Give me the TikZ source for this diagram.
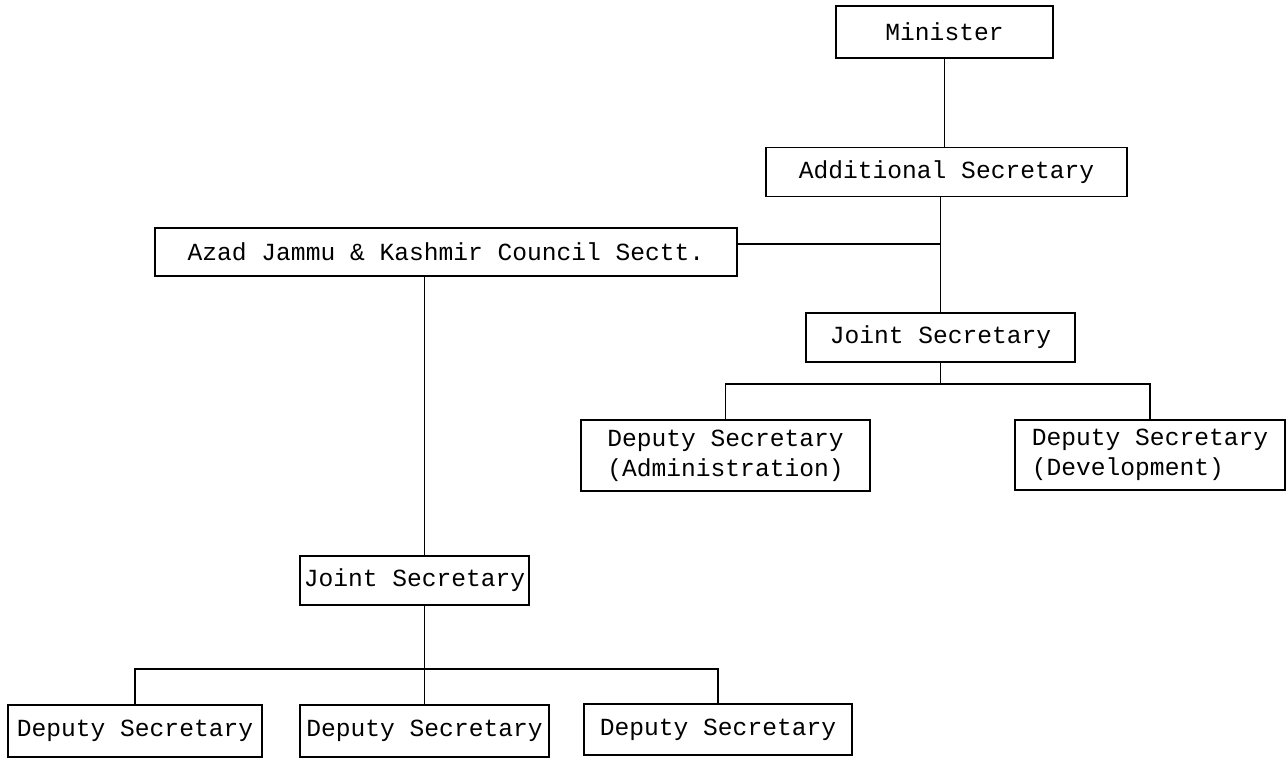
\documentclass[tikz,border=0pt]{standalone}
\usepackage{fontspec}
\setmonofont{Liberation Mono}
\usepackage{tikz}
\usetikzlibrary{positioning}

\begin{document}
\begin{tikzpicture}[
    x=0.02cm, y=-0.02cm,
    box/.style={rectangle, draw, line width=1.1pt, inner sep=2pt, align=center,
                font=\ttfamily\fontsize{14}{17}\selectfont},
    line/.style={line width=1.1pt}
]
\useasboundingbox (0,0) rectangle (1287,759);

\node[box, minimum width=217*0.02cm, minimum height=52*0.02cm] (minister) at (944.5,32) {Minister};
\node[box, minimum width=361*0.02cm, minimum height=49*0.02cm] (addsec) at (946.5,172) {Additional Secretary};
\node[box, minimum width=582*0.02cm, minimum height=48*0.02cm] (azad) at (446,252) {Azad Jammu \& Kashmir Council Sectt.};
\node[box, minimum width=269*0.02cm, minimum height=49*0.02cm] (jsright) at (940.5,337.5) {Joint Secretary};
\node[box, minimum width=289*0.02cm, minimum height=71*0.02cm] (dsadmin) at (725.5,455.5) {Deputy Secretary\\(Administration)};
\node[box, minimum width=270*0.02cm, minimum height=70*0.02cm, align=left] (dsdev) at (1150,455) {Deputy Secretary\\(Development)};
\node[box, minimum width=229*0.02cm, minimum height=49*0.02cm] (jsleft) at (414.5,580.5) {Joint Secretary};
\node[box, minimum width=254*0.02cm, minimum height=52*0.02cm] (dsone) at (135,731) {Deputy Secretary};
\node[box, minimum width=249*0.02cm, minimum height=52*0.02cm] (dstwo) at (424.5,731) {Deputy Secretary};
\node[box, minimum width=268*0.02cm, minimum height=51*0.02cm] (dsthree) at (718,729.5) {Deputy Secretary};

\coordinate (busright) at (940.5,384);
\coordinate (busleft) at (424.5,669);

% ministry side
\draw[line] (minister.south) -- (minister.south |- addsec.north);
\draw[line] (jsright.north |- addsec.south) -- (jsright.north);
\draw[line] ([yshift=0.16cm]azad.east) -- ([yshift=0.16cm]azad.east -| jsright.north);
\draw[line] (jsright.south) -- (busright);
\draw[line] (dsadmin.north) |- (busright) -| (dsdev.north);

% council side
\draw[line] (azad.south -| dstwo.north) -- (jsleft.north -| dstwo.north);
\draw[line] (jsleft.south -| dstwo.north) -- (dstwo.north);
\draw[line] (dsone.north) |- (busleft) -| (dsthree.north);
\end{tikzpicture}
\end{document}
